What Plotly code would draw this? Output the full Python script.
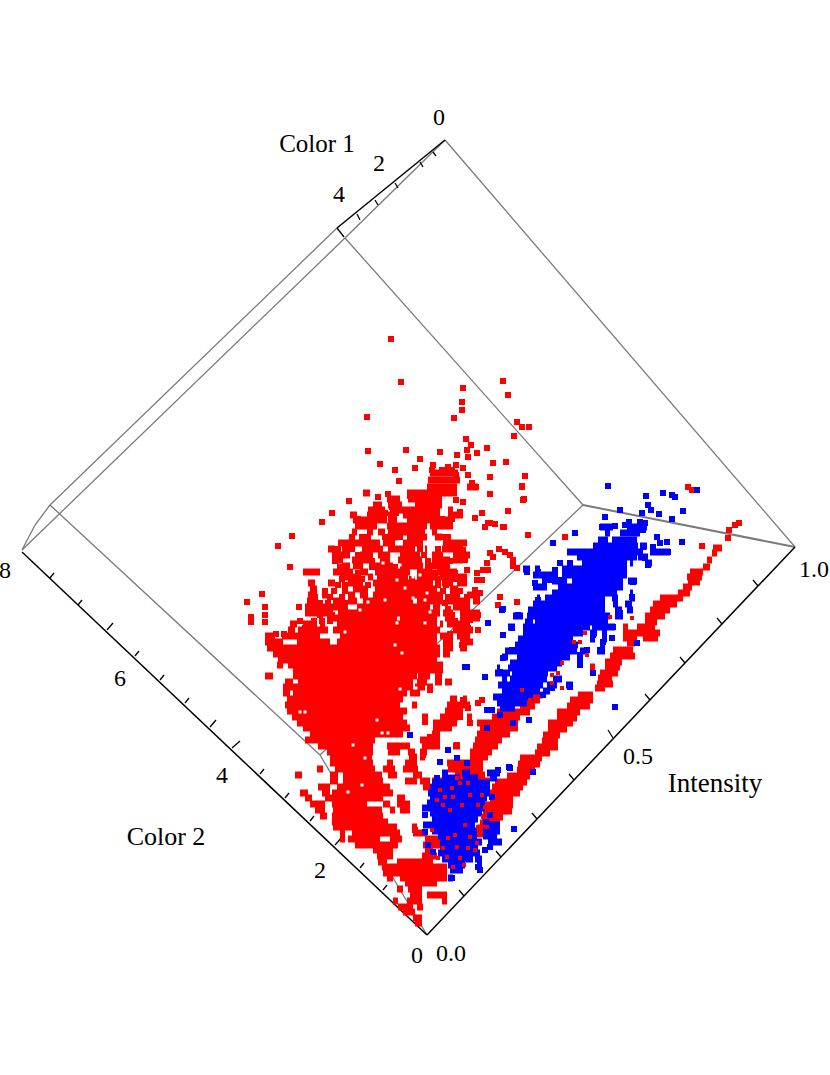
import plotly.graph_objects as go

# ── Box edges (screen positions) ────────────────────────────────────────────
grey_edges = [
    [(445, 140), (795, 547)],
    [(445, 140), (345, 238)],
    [(337, 228), (50, 505)],
    [(345, 238), (22, 550)],
    [(50, 505), (35, 525), (22, 550)],
    [(345, 238), (583, 505)],
    [(50, 505), (320, 755)],
    [(320, 755), (427, 935)],
    [(320, 755), (583, 505)],
]
grey_thick_edges = [[(583, 505), (795, 547)]]
black_edges = [
    [(445, 140), (337, 228)],
    [(22, 552), (427, 935)],
    [(427, 935), (795, 547)],
]

# axis point, tick end
color1_ticks = [(337, 228, 344, 237), (357, 214, 360, 220), (375, 200, 378, 205),
                (395, 183, 398, 188), (420, 162, 423, 167), (433, 152, 436, 156)]
color2_ticks = [(50, 578, 54, 573), (78, 605, 82, 600), (107, 630, 113, 623), (135, 656, 139, 651),
                (160, 680, 164, 675), (185, 703, 189, 698), (210, 727, 216, 720), (232, 748, 240, 741),
                (260, 774, 264, 769), (285, 798, 289, 793), (310, 821, 314, 816), (335, 845, 343, 836),
                (360, 868, 364, 863), (383, 890, 387, 885), (405, 913, 409, 908)]
intensity_ticks = [(464, 896, 459, 890), (501, 857, 496, 851), (537, 819, 532, 813), (574, 780, 569, 774),
                   (613, 738, 608, 730), (650, 700, 645, 694), (685, 663, 680, 657), (722, 624, 717, 618),
                   (758, 586, 753, 580)]

# ── Labels ──────────────────────────────────────────────────────────────────
label_text = ['0', 'Color 1', '2', '4', '8', '6', '4', '2', '0', '0.0', '0.5', '1.0', 'Intensity', 'Color 2']
label_x = [439, 317, 379, 339, 5, 120, 222, 320, 417, 451, 638, 814, 715, 166]
label_y = [119, 146, 165, 196, 572, 680, 777, 872, 957, 955, 758, 571, 785, 838]
label_size = [24, 25, 24, 24, 24, 24, 24, 24, 24, 24, 24, 24, 27, 26]

# ── Red points ──────────────────────────────────────────────────────────────
red_scatter = [
    (391, 339), (401, 382), (463, 388), (503, 381), (508, 395), (462, 402), (462, 410), (454, 418),
    (367, 417), (517, 422), (522, 427), (514, 436), (529, 427), (466, 439), (471, 445), (487, 448),
    (406, 450), (368, 451), (440, 452), (477, 453), (467, 450), (457, 455), (468, 457), (420, 459),
    (493, 463), (506, 462), (380, 464), (433, 465), (448, 467), (456, 465), (415, 468), (395, 470),
    (463, 468), (468, 475), (490, 477), (525, 476), (399, 481), (522, 486), (472, 483), (476, 487),
    (367, 493), (490, 494), (524, 499), (388, 494), (378, 497), (349, 501), (463, 502), (460, 512),
    (508, 511), (332, 513), (482, 513), (475, 518), (322, 522), (488, 523), (495, 524), (504, 527),
    (528, 535), (292, 536), (278, 546), (290, 567), (262, 594), (247, 602),
    (299, 607), (265, 607), (251, 617), (523, 500), (522, 487), (503, 527), (490, 523),
    (485, 527), (565, 537), (500, 597), (517, 602), (498, 605), (728, 538), (702, 546),
    (735, 525), (739, 523), (729, 530), (688, 487), (692, 490),
    # ring and loose points right of the cloud
    (493, 557), (505, 552), (513, 560), (517, 568), (488, 570), (477, 573), (477, 580), (482, 580),
    (475, 590), (480, 593), (467, 597), (463, 610), (473, 615), (470, 620), (465, 637), (462, 645),
    (478, 630), (467, 570), (463, 550), (465, 560), (463, 580), (490, 553), (499, 549), (510, 555),
    (487, 563), (483, 570), (513, 566), (455, 579), (251, 622), (265, 615), (265, 622),
    # between the cloud and the blue stream
    (448, 682), (463, 700), (482, 700), (478, 703), (468, 708), (460, 717), (470, 723), (457, 745),
    (415, 830), (430, 690), (453, 705), (425, 722), (430, 737), (423, 755), (412, 757),
    # cloud, upper part
    (432, 470), (442, 470), (452, 470), (456, 475), (430, 492), (437, 490), (450, 492), (456, 500),
    (410, 496), (392, 507), (385, 513), (396, 513), (358, 519), (362, 522), (375, 519), (428, 519),
    (442, 519), (448, 524), (452, 519), (344, 543), (352, 537), (362, 537), (368, 537), (385, 537),
    (400, 537), (414, 537), (420, 537), (442, 537), (448, 537), (332, 549), (338, 549), (352, 549),
    (378, 549), (420, 549), (438, 549), (335, 555), (358, 555), (424, 555), (450, 561), (335, 561),
    (372, 561), (428, 561), (340, 567), (372, 567), (395, 567), (428, 567), (445, 567), (345, 573),
    (358, 573), (435, 573), (342, 579), (362, 579), (412, 579), (438, 579), (455, 573), (338, 585),
    (345, 585), (368, 585), (438, 585), (446, 585), (325, 591), (334, 591), (345, 591), (443, 591),
    (460, 591), (315, 597), (330, 597), (342, 597), (440, 597), (448, 597), (456, 597), (320, 603),
    (328, 603), (345, 603), (445, 603), (460, 603), (345, 609), (448, 609), (466, 609), (320, 615),
    (332, 615), (452, 615), (478, 615), (300, 621), (314, 621), (322, 621), (330, 621), (455, 621),
    (465, 621), (305, 628), (312, 628), (458, 628), (468, 628), (276, 634), (284, 634), (450, 634),
]
# merged runs of overlapping points: row -> [(from, to), ...]
red_runs = {
    473: [(430, 458)], 480: [(428, 460)], 487: [(427, 457), (467, 478)], 493: [(407, 457), (363, 370)],
    499: [(387, 400), (408, 442)], 505: [(373, 382), (388, 402), (415, 442)],
    510: [(368, 385), (390, 440), (448, 453)], 515: [(350, 357), (367, 387), (388, 397), (403, 440), (448, 463)],
    520: [(353, 387), (388, 397), (407, 453)], 526: [(355, 377), (387, 427), (430, 453)],
    532: [(352, 357), (367, 373), (378, 385), (388, 425), (432, 437)], 537: [(387, 397), (407, 427), (435, 442)],
    543: [(338, 380), (383, 395), (403, 423), (443, 467)],
    549: [(328, 335), (342, 350), (362, 383), (388, 415), (425, 427), (442, 463)],
    555: [(333, 350), (360, 373), (378, 390), (400, 420), (432, 443), (453, 470)],
    560: [(332, 343), (352, 370), (380, 390), (398, 422), (432, 450), (453, 463)],
    566: [(342, 350), (353, 363), (375, 393), (400, 423), (427, 450)],
    572: [(303, 320), (333, 353), (360, 368), (375, 410), (417, 432), (437, 457)],
    577: [(340, 360), (368, 373), (377, 408), (417, 437), (440, 467)],
    583: [(308, 315), (328, 335), (348, 363), (373, 433), (442, 453), (457, 467)],
    589: [(310, 317), (353, 368), (375, 437), (450, 458)],
    595: [(308, 317), (322, 327), (348, 355), (360, 368), (373, 440), (450, 460), (467, 480)],
    601: [(307, 318), (333, 343), (348, 357), (363, 413), (417, 443), (448, 470), (473, 480)],
    607: [(305, 343), (357, 430), (433, 440), (453, 470)],
    613: [(305, 333), (338, 440), (443, 453), (460, 480)],
    618: [(327, 397), (400, 437), (445, 453), (460, 470), (473, 480)],
    624: [(290, 297), (303, 317), (320, 325), (337, 437), (440, 443), (447, 470)],
    630: [(288, 295), (298, 328), (333, 440), (453, 473)],
    636: [(265, 275), (282, 320), (340, 437), (440, 453), (457, 470)],
    642: [(265, 283), (297, 330), (337, 437), (443, 453), (460, 473)],
    648: [(267, 440), (443, 453), (460, 467)], 654: [(273, 440), (443, 450)],
    660: [(278, 437)], 665: [(277, 283), (288, 443)], 670: [(293, 443)],
    676: [(265, 273), (293, 417), (418, 430), (435, 442)],
    682: [(285, 293), (298, 413), (417, 427), (435, 442), (445, 452)],
    687: [(283, 413), (415, 425), (427, 433)], 693: [(283, 290), (293, 407), (410, 420)],
    699: [(287, 403), (450, 457), (463, 467)], 705: [(285, 400), (412, 417), (447, 470)],
    711: [(287, 407), (445, 463)], 717: [(292, 403), (422, 428), (440, 458), (467, 472), (492, 520)],
    723: [(297, 407), (433, 457), (477, 518)], 728: [(303, 410), (433, 452), (480, 518)],
    734: [(310, 403), (432, 440), (477, 510)], 740: [(305, 375), (420, 440), (475, 502)],
    746: [(318, 373), (387, 410), (422, 440), (453, 460), (473, 498)],
    752: [(327, 373), (388, 400), (408, 415), (420, 427), (470, 492)],
    757: [(330, 372), (410, 417), (420, 425), (470, 488)], 763: [(330, 373), (387, 393), (405, 417), (447, 483)],
    769: [(317, 323), (335, 375), (383, 395), (403, 418), (448, 483)],
    775: [(295, 302), (330, 338), (343, 382), (388, 397), (413, 422), (455, 485)],
    781: [(330, 338), (343, 383), (405, 417), (420, 430), (432, 490)],
    787: [(318, 330), (337, 390), (423, 433)], 793: [(300, 308), (322, 330), (332, 393)],
    798: [(305, 312), (325, 383), (397, 405)], 804: [(310, 325), (332, 367), (383, 390), (397, 410)],
    810: [(315, 325), (333, 382), (390, 395), (400, 410)], 816: [(320, 327), (332, 383)],
    822: [(332, 388)], 827: [(333, 397), (412, 417)], 833: [(340, 345), (352, 400), (413, 427)],
    839: [(340, 345), (348, 380), (390, 402), (425, 440)], 845: [(355, 398), (423, 440)],
    850: [(373, 393), (425, 433)], 856: [(377, 393), (422, 437)], 862: [(378, 387), (397, 433)],
    867: [(382, 447)], 873: [(383, 447)], 878: [(387, 393), (400, 447)],
    883: [(405, 437)], 889: [(397, 403), (408, 422)], 895: [(410, 422), (427, 447)],
    901: [(393, 398), (407, 422), (442, 447)], 907: [(398, 413), (417, 423)], 912: [(403, 415)],
    918: [(413, 422)], 923: [(415, 422)],
}
red_stream_runs = {
    # lower band, tip to blob
    548: [(713, 722)], 553: [(712, 717)], 560: [(707, 712)], 567: [(703, 710)], 572: [(690, 703)],
    577: [(687, 702)], 582: [(688, 700)], 587: [(683, 692)], 593: [(678, 690)], 598: [(660, 683)],
    604: [(653, 677)], 610: [(650, 670)], 616: [(645, 665)], 622: [(645, 657)],
    627: [(623, 628), (637, 655)], 633: [(623, 660)], 638: [(623, 637), (643, 658)], 643: [(627, 635)],
    650: [(613, 633)], 656: [(610, 635)], 662: [(605, 622)], 667: [(590, 595), (605, 620)],
    673: [(600, 618)], 678: [(598, 612)], 684: [(597, 613)], 688: [(595, 605)],
    695: [(578, 593), (533, 543)], 700: [(570, 593), (527, 540)], 706: [(567, 590), (520, 535)],
    712: [(557, 580), (497, 530)], 718: [(557, 577)], 723: [(548, 573)], 729: [(548, 567)],
    735: [(543, 560)], 741: [(542, 558)], 747: [(537, 558)], 753: [(535, 550)], 758: [(520, 542)],
    764: [(518, 540)], 770: [(517, 535)], 776: [(507, 530)], 782: [(495, 527)], 787: [(492, 523)],
    793: [(490, 520)], 799: [(490, 513)], 805: [(485, 513)], 811: [(483, 512)], 817: [(482, 503)],
    823: [(480, 500)], 828: [(477, 493)], 834: [(473, 487)],
}
cloud_gaps = [
    (402, 653), (425, 623), (397, 623), (413, 598), (427, 593), (368, 602), (372, 590), (397, 580),
    (413, 577), (400, 565), (383, 563), (300, 712), (305, 712), (377, 720), (400, 689),
    (353, 745), (365, 758), (348, 792), (362, 785), (382, 733), (388, 733), (395, 645), (416, 688),
    (420, 575), (360, 610), (345, 632), (430, 612), (405, 588), (385, 600), (425, 600),
]

# ── Blue points ─────────────────────────────────────────────────────────────
blue_runs = {
    527: [(600, 613), (627, 647)], 533: [(605, 610), (620, 640)], 540: [(598, 608), (612, 637)],
    546: [(593, 638), (640, 647)], 552: [(567, 640), (650, 670)], 557: [(577, 637), (638, 648)],
    563: [(582, 627), (630, 633), (645, 652)], 569: [(523, 530), (535, 540), (562, 627)],
    575: [(533, 558), (562, 627)], 581: [(542, 547), (552, 567), (572, 623), (628, 637)],
    587: [(533, 547), (558, 623)], 593: [(552, 617), (630, 633)],
    598: [(537, 540), (545, 605), (612, 618), (630, 635)], 604: [(533, 605), (613, 618), (625, 632)],
    610: [(528, 605), (615, 622), (627, 633)], 616: [(513, 523), (527, 610), (615, 623)],
    622: [(525, 533), (535, 608)], 627: [(508, 515), (523, 590), (592, 615)],
    633: [(523, 583), (590, 597), (602, 607)], 639: [(518, 573), (590, 595), (602, 607)],
    645: [(515, 578), (600, 605)], 651: [(505, 577), (580, 587), (597, 605)],
    657: [(502, 508), (517, 570), (577, 583)], 663: [(510, 562), (577, 583)], 668: [(497, 500), (508, 557)],
    673: [(495, 510), (512, 548)], 679: [(502, 507), (510, 547), (553, 562)],
    685: [(498, 543), (547, 557), (566, 573)], 691: [(502, 540), (543, 550)], 697: [(493, 533)],
    703: [(497, 527)], 708: [(500, 515)],
    # lower blob
    773: [(442, 448), (462, 470), (487, 500)], 778: [(442, 460), (463, 478), (490, 497)],
    783: [(432, 490)], 788: [(430, 490)], 793: [(428, 490)], 798: [(430, 487)], 803: [(427, 485)],
    808: [(422, 485)], 813: [(430, 482)], 819: [(432, 478)], 825: [(423, 475), (488, 500)],
    831: [(432, 477), (483, 500)], 836: [(438, 477), (483, 497)], 842: [(440, 482), (488, 502)],
    847: [(440, 478)], 853: [(438, 480)], 859: [(442, 473), (475, 482)], 865: [(448, 465), (477, 482)],
    870: [(450, 463)], 878: [(448, 453)],
}
blue_scatter = [
    (608, 486), (646, 496), (663, 493), (672, 495), (675, 497), (697, 490), (648, 505), (651, 510),
    (620, 510), (683, 511), (659, 514), (605, 517), (642, 513), (672, 519), (629, 522), (645, 523),
    (640, 522), (602, 527), (610, 527), (657, 537), (667, 542), (660, 543), (625, 525), (615, 526),
    (635, 530), (643, 530), (643, 547), (640, 552), (645, 558), (648, 565),
    (653, 547), (682, 542), (668, 552), (575, 533), (553, 543),
    (488, 623), (503, 609), (503, 635), (465, 667), (485, 677), (615, 707), (570, 687),
    (529, 720), (513, 723), (500, 715), (492, 710), (633, 582), (527, 572), (535, 583), (538, 572),
    (545, 577), (555, 570), (543, 587), (538, 600), (518, 615), (512, 628), (532, 613), (503, 658),
    (500, 672), (512, 650), (580, 665), (552, 688), (543, 695), (632, 597), (620, 613), (613, 627),
    (605, 622), (593, 635), (603, 642), (612, 638), (600, 650), (587, 650), (580, 655), (637, 643),
    (593, 673), (590, 552), (575, 552), (570, 563), (560, 563), (550, 580), (560, 580),
    (410, 735), (448, 750), (467, 667), (440, 762), (457, 758), (514, 829), (487, 710), (487, 728),
    (467, 763), (510, 768), (498, 770), (478, 867), (452, 878), (502, 610), (533, 772), (509, 767),
    (490, 815), (486, 822), (425, 815), (425, 832), (428, 845), (433, 852), (485, 850), (490, 847),
    (437, 778), (484, 784), (492, 797), (494, 830), (480, 870),
]
red_specks = [
    (437, 800), (443, 805), (450, 810), (453, 797), (460, 783), (468, 783), (457, 778), (485, 807),
    (493, 808), (500, 810), (483, 817), (478, 827), (487, 827), (470, 837), (477, 843), (468, 848),
    (457, 847), (443, 848), (447, 857), (460, 858), (453, 867), (435, 867), (445, 797), (470, 795),
    (482, 795), (432, 830), (475, 850), (464, 865), (440, 790), (452, 788), (478, 805), (465, 825),
    (455, 835), (448, 838), (462, 805), (438, 858),
    (585, 633), (580, 642), (574, 642), (562, 663), (552, 675), (558, 673), (562, 688), (610, 617),
    (632, 618), (587, 655), (522, 690), (530, 700), (552, 683),
]


def add_lines(fig, segments, color, width):
    xs, ys = [], []
    for seg in segments:
        xs += [p[0] for p in seg] + [None]
        ys += [p[1] for p in seg] + [None]
    fig.add_trace(go.Scatter(x=xs, y=ys, mode='lines', line=dict(color=color, width=width),
                             hoverinfo='skip', showlegend=False))


def add_runs(fig, runs, color):
    add_lines(fig, [[(a, y), (b, y)] for y, row in runs.items() for a, b in row], color, 7)


def add_points(fig, pairs, color, size):
    fig.add_trace(go.Scatter(x=[p[0] for p in pairs], y=[p[1] for p in pairs], mode='markers', showlegend=False,
                             marker=dict(color=color, size=size, symbol='square', line=dict(width=0))))


fig = go.Figure()

add_lines(fig, grey_edges, '#7a7a7a', 1.3)
add_lines(fig, grey_thick_edges, '#7a7a7a', 2)
add_lines(fig, black_edges, '#000000', 1.5)
add_lines(fig, [[(t[0], t[1]), (t[2], t[3])] for t in color1_ticks + color2_ticks + intensity_ticks],
          '#000000', 1.3)

add_runs(fig, red_runs, '#ff0000')
add_runs(fig, red_stream_runs, '#ff0000')
add_points(fig, red_scatter, '#ff0000', 6)
add_points(fig, cloud_gaps, '#ffffff', 3)
add_runs(fig, blue_runs, '#0000ff')
add_points(fig, blue_scatter, '#0000ff', 6)
add_points(fig, red_specks, '#ff0000', 4)

fig.add_trace(go.Scatter(x=label_x, y=label_y, text=label_text, mode='text', showlegend=False,
                         textposition='middle center', cliponaxis=False,
                         textfont=dict(family='Liberation Serif', size=label_size, color='#000000')))

fig.update_layout(
    width=830, height=1075,
    paper_bgcolor='white', plot_bgcolor='white',
    margin=dict(l=0, r=0, t=0, b=0),
    xaxis=dict(range=[0, 830], visible=False),
    yaxis=dict(range=[1075, 0], visible=False),
    showlegend=False,
)
fig.write_html("out.html", config=dict(displayModeBar=False),
               post_script="document.body.style.margin='0'")
